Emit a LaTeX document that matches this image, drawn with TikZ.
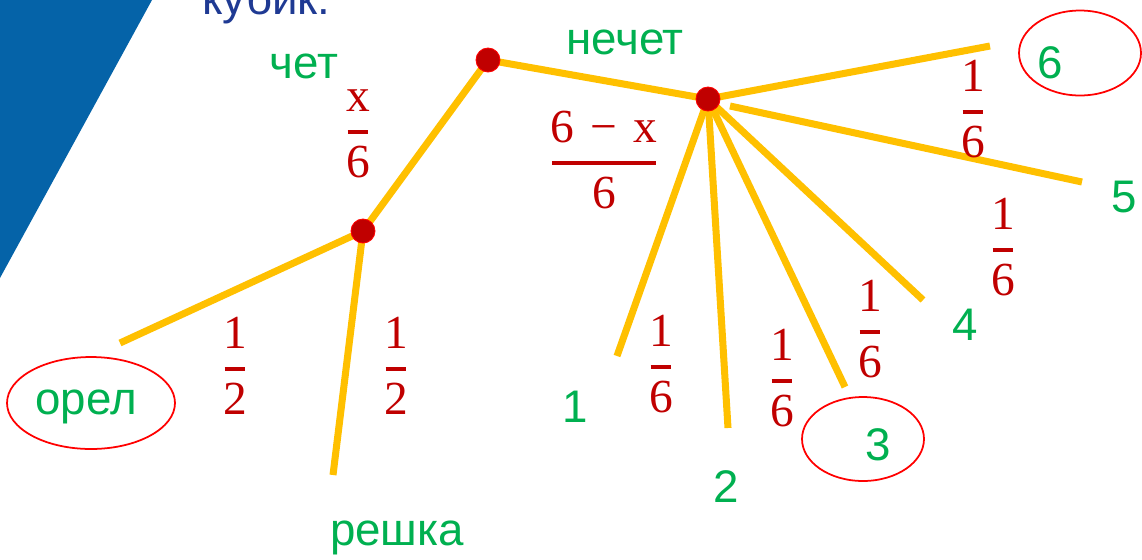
\documentclass[tikz,border=0pt]{standalone}
\usepackage{fontspec}
\setmainfont{Liberation Sans}
\newfontfamily\probfont{Liberation Serif}
\usetikzlibrary{shapes.geometric}
\definecolor{gold}{HTML}{FFC000}
\definecolor{dotred}{HTML}{C00000}
\definecolor{lblgreen}{HTML}{00B050}
\definecolor{probred}{HTML}{C00000}
\definecolor{ringred}{HTML}{FF0000}
\definecolor{panelblue}{HTML}{0563A8}
\definecolor{titleblue}{HTML}{1F3A93}
\newcommand\pfr[2]{\vbox{\offinterlineskip\halign{\hfil##\hfil\cr
  #1\cr
  \noalign{\vskip 10.5pt}
  \kern0.8pt\leaders\hrule height 2.2pt\hfill\kern0.8pt\cr
  \noalign{\vskip 7pt}
  #2\cr}}}
\begin{document}
\begin{tikzpicture}[x=0.02cm,y=-0.02cm,
  branch/.style={draw=gold, line width=4pt},
  dot/.style={circle, fill=dotred, draw=ringred, line width=0.5pt, minimum size=0.48cm, inner sep=0pt},
  lbl/.style={text=lblgreen, font=\fontsize{26}{30}\selectfont, inner sep=0pt},
  prob/.style={text=probred, font=\probfont\fontsize{27}{31}\selectfont, inner sep=0pt},
  ring/.style={ellipse, draw=ringred, line width=1pt, inner sep=0pt},
  title/.style={text=titleblue, font=\fontsize{26}{30}\selectfont, inner sep=0pt, anchor=base west}]
\useasboundingbox (0,0) rectangle (1142,559);
\clip (0,0) rectangle (1142,559);
% blue panel
\fill[panelblue] (0,0) -- (152,0) -- (0,278) -- cycle;
\node[title] (title) at (202,14) {кубик.};
% ends of branches
\coordinate (eO) at (120,343);
\coordinate (eR) at (333,475);
\coordinate (e6) at (990,46);
\coordinate (s5) at (730,106);
\coordinate (e5) at (1082,182);
\coordinate (e4) at (923,300);
\coordinate (e3) at (845,387);
\coordinate (e2) at (728,428);
\coordinate (e1) at (617,356);
% dots positions
\coordinate (root) at (488,60);
\coordinate (even) at (363,231);
\coordinate (odd) at (708,99);
% branches
\draw[branch] (root) -- (even);
\draw[branch] (root) -- (odd);
\draw[branch] (even) -- (eO);
\draw[branch] (even) -- (eR);
\draw[branch] (odd) -- (e6);
\draw[branch] (s5) -- (e5);
\draw[branch] (odd) -- (e4);
\draw[branch] (odd) -- (e3);
\draw[branch] (odd) -- (e2);
\draw[branch] (odd) -- (e1);
% dots
\node[dot] (droot) at (root) {};
\node[dot] (deven) at (even) {};
\node[dot] (dodd) at (odd) {};
% labels
\node[lbl] (chet) at (304,66) {чет};
\node[lbl] (nechet) at (625,42) {нечет};
\node[lbl] (orel) at (86,407) {орел};
\node[lbl] (reshka) at (397,538) {решка};
\node[lbl] (l1) at (575,407) {1};
\node[lbl] (l2) at (726,487) {2};
\node[lbl] (l3) at (878,445) {3};
\node[lbl] (l4) at (965,325) {4};
\node[lbl] (l5) at (1124,197) {5};
\node[lbl] (l6) at (1050,63) {6};
% rings
\node[ring, minimum width=3.36cm, minimum height=1.84cm] (ringO) at (91,403) {};
\node[ring, minimum width=2.44cm, minimum height=1.68cm] (ring3) at (863,439) {};
\node[ring, minimum width=2.44cm, minimum height=1.70cm] (ring6) at (1080,53) {};
% probabilities
\node[prob] (px) at (358,134) {\pfr{x}{6}};
\node[prob] (pnx) at (604,160) {\pfr{6\hspace{9.3pt}−\hspace{9.3pt}x}{6}};
\node[prob] (pO) at (235,366) {\pfr{1}{2}};
\node[prob] (pR) at (396,366) {\pfr{1}{2}};
\node[prob] (p1) at (661,364) {\pfr{1}{6}};
\node[prob] (p2) at (782,378) {\pfr{1}{6}};
\node[prob] (p3) at (870,329) {\pfr{1}{6}};
\node[prob] (p4) at (1003,247) {\pfr{1}{6}};
\node[prob] (p6) at (973,109) {\pfr{1}{6}};
\end{tikzpicture}
\end{document}
